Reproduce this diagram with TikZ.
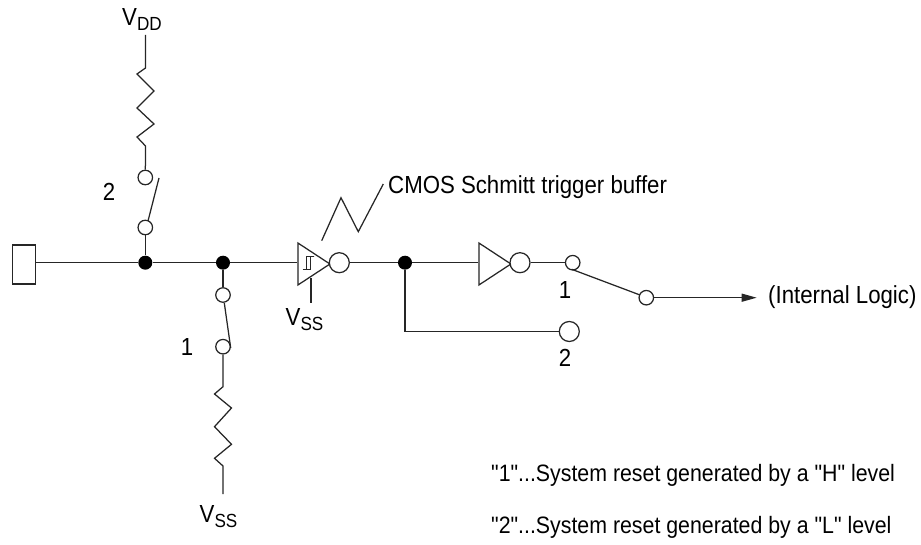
\documentclass[tikz,border=0pt]{standalone}
\usepackage{fontspec}
\setmainfont[FakeStretch=0.9,Ligatures=TeXOff]{Liberation Sans}
\usetikzlibrary{shapes.geometric,arrows.meta}
\newcommand{\sublabel}[2]{#1\raisebox{-5pt}{\fontsize{19}{19}\selectfont #2}}
\tikzset{
  wire/.style={draw=black!85,line width=1.25pt},
  pin/.style={circle,draw=black!85,line width=1.25pt,fill=white,inner sep=0pt,minimum size=14.5pt},
  bubble/.style={circle,draw=black!85,line width=1.25pt,fill=white,inner sep=0pt,minimum size=20pt},
  joint/.style={circle,fill=black,inner sep=0pt,minimum size=14pt},
  buffer/.style={isosceles triangle,isosceles triangle stretches,draw=black!85,line width=1.25pt,fill=white,inner sep=0pt,minimum width=42pt,minimum height=32pt,anchor=lower side},
  padbox/.style={rectangle,draw=black!85,line width=1.25pt,inner sep=0pt,minimum width=22.5pt,minimum height=39pt},
  txt/.style={inner sep=0pt,font=\fontsize{24.7}{25}\selectfont},
  note/.style={inner sep=0pt,anchor=west,font=\fontsize{23.7}{24}\selectfont}
}
\begin{document}
\begin{tikzpicture}[x=1pt,y=1pt]
\useasboundingbox (0,0) rectangle (921,-545);
% main line
\node [padbox] (pad) at (24,-264.5) {};
\node [joint] (j1) at (145.3,-262.7) {};
\node [joint] (j2) at (223,-262.7) {};
\node [buffer] (schmitt) at (297.3,-264) {};
\node [bubble] (sb) at (339.3,-262.7) {};
\node [joint] (j3) at (405,-262.7) {};
\node [buffer] (inv) at (478.3,-264) {};
\node [bubble] (ib) at (520,-262.7) {};
\node [pin] (s1) at (572.7,-262.7) {};
\node [pin] (sout) at (646.3,-297.7) {};
\node [bubble] (s2) at (569.3,-331.5) {};
\coordinate (pada) at (35.3,-262.7);
\draw [wire] (pada) -- (j1);
\draw [wire] (j1) -- (j2);
\draw [wire] (j2) -- (schmitt.lower side |- j2);
\draw [wire] (sb) -- (j3);
\draw [wire] (j3) -- (inv.lower side |- j3);
\draw [wire] (ib) -- (s1);
\draw [wire] (j3) |- (s2);
\coordinate (bladea) at (571.7,-269.3);
\coordinate (bladeb) at (640,-295);
\draw [wire] (bladea) -- (bladeb);
\coordinate (arrowend) at (756.7,-297.7);
\draw [wire,-{Triangle[length=15pt,width=8pt]}] (sout) -- (arrowend);
% upper branch
\node [pin] (u1) at (145.3,-177.5) {};
\node [pin] (u2) at (145.3,-227.5) {};
\coordinate (vdd) at (145.5,-35);
\draw [wire] (vdd) -- (145.5,-68) -- (137,-74) -- (154,-91) -- (137,-108) -- (154,-124) -- (137,-137) -- (145.5,-146) -- (u1);
\draw [wire] (u2) -- (j1);
\coordinate (upa) at (148,-221);
\coordinate (upb) at (159,-178);
\draw [wire] (upa) -- (upb);
% lower branch
\node [pin] (l1) at (223,-295) {};
\node [pin] (l2) at (223,-346.7) {};
\draw [wire] (j2) -- (l1);
\coordinate (vss) at (223,-494);
\draw [wire] (l2) -- (223,-386.7) -- (214.5,-394) -- (231.5,-408) -- (214.5,-426.7) -- (231.5,-444.3) -- (214.5,-458.3) -- (223,-466) -- (vss);
\coordinate (lowa) at (224.3,-303);
\coordinate (lowb) at (230.7,-348);
\draw [wire] (lowa) -- (lowb);
% schmitt symbol and its pointer
\draw [wire,line width=0.9pt] (302.7,-269.7) -- (310.7,-269.7) -- (310.7,-256.3) -- (314,-256.3) -- (306.7,-256.3) -- (306.7,-269.7);
\coordinate (gnda) at (311,-278);
\coordinate (gndb) at (311,-303);
\draw [wire] (gnda) -- (gndb);
\draw [wire] (321.7,-240.7) -- (341,-197.7) -- (358.3,-231.7) -- (383.3,-184);
% labels
\node [txt] (lvdd) at (142,-20) {\sublabel{V}{DD}};
\node [txt] (lvss) at (218.5,-517) {\sublabel{V}{SS}};
\node [txt] (lvssb) at (304.5,-320) {\sublabel{V}{SS}};
\node [txt] (ltwo) at (109,-192) {2};
\node [txt] (lone) at (187,-347) {1};
\node [txt] (lsone) at (565,-290) {1};
\node [txt] (lstwo) at (565,-358) {2};
\node [txt,anchor=west] (lcmos) at (388,-187) {CMOS Schmitt trigger buffer};
\node [txt,anchor=west] (llogic) at (768,-297) {(Internal Logic)};
\node [note] (lh) at (491,-475) {"1"...System reset generated by a "H" level};
\node [note] (ll) at (491,-527) {"2"...System reset generated by a "L" level};
\end{tikzpicture}
\end{document}
